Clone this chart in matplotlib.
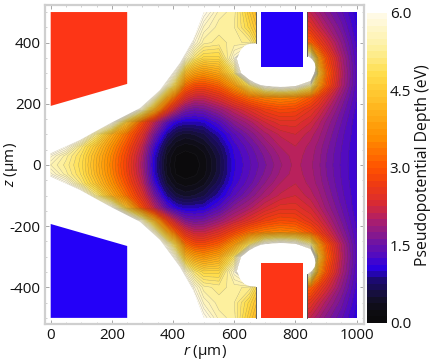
import matplotlib
matplotlib.use("Agg")
import matplotlib.pyplot as plt
import numpy as np
from matplotlib.colors import LinearSegmentedColormap
from matplotlib.patches import Polygon

# field, upper half only (z >= 0); the rest is mirrored
r_um = [0, 50, 100, 150, 200, 250, 300, 340, 380, 410, 440, 470, 500, 550, 600, 650, 700, 750, 800, 850, 875, 900, 950, 1000]
z_um = [0, 30, 60, 100, 140, 180, 220, 260, 300, 350, 400, 450, 500]
depth_upper = [
    [5.5, 5.2, 4.8, 4.1, 3.4, 2.7, 1.9, 0.95, 0.32, 0.08, 0.02, 0.06, 0.17, 0.55, 1.1, 1.35, 1.6, 1.85, 2.05, 1.9, 1.78, 1.62, 1.35, 1.12],
    [5.8, 5.3, 4.85, 4.15, 3.45, 2.75, 1.95, 1.0, 0.36, 0.12, 0.06, 0.1, 0.2, 0.58, 1.12, 1.38, 1.65, 1.9, 2.07, 1.92, 1.8, 1.63, 1.36, 1.12],
    [6.6, 5.95, 5.05, 4.35, 3.6, 2.9, 2.1, 1.15, 0.5, 0.26, 0.18, 0.22, 0.33, 0.7, 1.18, 1.45, 1.75, 2.0, 2.12, 1.95, 1.83, 1.67, 1.38, 1.13],
    [7.4, 6.9, 6.3, 5.1, 4.0, 3.2, 2.4, 1.55, 0.85, 0.55, 0.45, 0.5, 0.6, 0.95, 1.35, 1.65, 1.95, 2.15, 2.25, 2.05, 1.92, 1.75, 1.42, 1.15],
    [8.0, 7.7, 7.2, 6.6, 6.0, 4.3, 2.85, 2.05, 1.35, 1.05, 0.95, 0.98, 1.0, 1.3, 1.7, 1.95, 2.25, 2.45, 2.45, 2.25, 2.05, 1.85, 1.5, 1.15],
    [8.0, 8.0, 8.0, 7.6, 7.2, 6.9, 5.4, 3.9, 2.6, 2.0, 1.6, 1.5, 1.55, 1.8, 2.1, 2.4, 2.7, 2.85, 2.8, 2.5, 2.3, 2.05, 1.6, 1.2],
    [8.0, 8.0, 8.0, 8.0, 7.8, 7.6, 6.9, 5.6, 3.9, 3.0, 2.4, 2.15, 2.15, 2.4, 2.8, 3.2, 3.4, 3.5, 3.4, 3.0, 2.7, 2.35, 1.75, 1.25],
    [8.0, 8.0, 8.0, 8.0, 8.0, 8.0, 7.8, 6.8, 5.6, 4.5, 3.2, 2.9, 2.85, 3.1, 3.75, 4.9, 6.1, 6.4, 6.2, 5.2, 3.8, 3.0, 2.0, 1.3],
    [8.0, 8.0, 8.0, 8.0, 8.0, 8.0, 8.0, 7.6, 6.6, 5.6, 4.2, 3.8, 3.65, 3.9, 4.9, 7.5, 8.0, 8.0, 8.0, 7.5, 4.4, 3.2, 2.05, 1.32],
    [8.0, 8.0, 8.0, 8.0, 8.0, 8.0, 8.0, 8.0, 8.0, 6.8, 5.7, 5.0, 4.7, 4.7, 5.7, 8.0, 8.0, 8.0, 8.0, 5.8, 3.7, 2.9, 1.95, 1.28],
    [8.0, 8.0, 8.0, 8.0, 8.0, 8.0, 8.0, 8.0, 8.0, 8.0, 6.6, 5.75, 5.3, 5.2, 5.3, 5.2, 4.2, 4.0, 3.2, 3.1, 2.7, 2.35, 1.75, 1.2],
    [8.0, 8.0, 8.0, 8.0, 8.0, 8.0, 8.0, 8.0, 8.0, 8.0, 7.0, 6.2, 5.6, 5.3, 5.25, 4.7, 4.0, 4.0, 2.7, 2.5, 2.2, 1.95, 1.55, 1.12],
    [8.0, 8.0, 8.0, 8.0, 8.0, 8.0, 8.0, 8.0, 8.0, 8.0, 7.5, 7.0, 6.0, 5.45, 5.3, 4.5, 3.8, 4.0, 2.3, 2.1, 1.9, 1.7, 1.4, 1.05],
]

# outlines of the cut-out areas and electrodes, upper half
gap_outline = [(-1, 38), (96, 82), (194, 136), (292, 186), (357, 245), (422, 333), (465, 408), (501, 501), (-1, 501)]
blob_outline = [
    (671, 501), (671, 398), (650, 396), (634, 390), (620, 375), (612, 354), (612, 338), (618, 321), (630, 300), (645, 284),
    (665, 270), (687, 261), (725, 257), (765, 256), (800, 260), (830, 270), (850, 285), (863, 305), (865, 320), (863, 333),
    (854, 346), (841, 356), (838, 501),
]
wedge_outline = [(0, 500), (0, 193), (250, 265), (250, 500)]
post_outline = [(687, 500), (687, 321), (823, 321), (823, 500)]

cmap_stops = [
    (0.0, "#0a0a0a"), (0.25, "#0e0c12"), (0.5, "#141030"), (0.8, "#1c0a70"), (1.06, "#2a00e0"), (1.25, "#4a08c8"),
    (1.5, "#6a12a8"), (1.75, "#8c1a88"), (2.0, "#b01e68"), (2.3, "#d82a34"), (2.7, "#f03c10"), (3.0, "#ff5200"),
    (3.6, "#ff9000"), (4.2, "#ffb820"), (4.8, "#ffdc48"), (5.3, "#fdf09c"), (6.0, "#fffbea"),
]
cbar_ticks = [0.0, 1.5, 3.0, 4.5, 6.0]

plt.rcParams["font.family"] = "Open Sans"
plt.rcParams["axes.unicode_minus"] = False
plt.rcParams["mathtext.fontset"] = "custom"
plt.rcParams["mathtext.it"] = "Open Sans:italic"
plt.rcParams["mathtext.rm"] = "Open Sans"

FRAME = "#cfcfcf"
INK = "#111111"
W, H = 436, 362

fig = plt.figure(figsize=(W / 100, H / 100), dpi=100)
axis = fig.add_axes([45 / W, 1 - 324 / H, 319 / W, 319 / H])

depth = np.array(depth_upper)
depth_full = np.vstack((depth[:0:-1], depth))
z_full = np.concatenate((-np.array(z_um)[:0:-1], z_um))

cmap = LinearSegmentedColormap.from_list("depth", [(v / 6.0, c) for v, c in cmap_stops])
levels = np.arange(0, 6.001, 0.125)
filled = axis.contourf(r_um, z_full, depth_full, levels=levels, cmap=cmap, vmin=0, vmax=6)
axis.contour(r_um, z_full, depth_full, levels=levels, colors="#333333", linewidths=0.3, alpha=0.35)

# white cut-outs, both halves
for sign in (1, -1):
    for outline in (gap_outline, blob_outline):
        points = [(x, sign * y) for x, y in outline]
        axis.add_patch(Polygon(points, closed=True, facecolor="white", edgecolor="none", zorder=3))
    for wall, start in ((671, 398), (838, 356)):
        axis.plot([wall, wall], [sign * start, sign * 500], color="#444444", lw=0.6, zorder=4)

# electrodes, red on top-left and bottom-right
red, blue = "#fd3516", "#2400f8"
axis.add_patch(Polygon(wedge_outline, closed=True, facecolor=red, edgecolor="none", zorder=5))
axis.add_patch(Polygon([(x, -y) for x, y in wedge_outline], closed=True, facecolor=blue, edgecolor="none", zorder=5))
axis.add_patch(Polygon(post_outline, closed=True, facecolor=blue, edgecolor="none", zorder=5))
axis.add_patch(Polygon([(x, -y) for x, y in post_outline], closed=True, facecolor=red, edgecolor="none", zorder=5))

axis.set_xlim(-18.6, 1024)
axis.set_ylim(-520, 523)
axis.set_xticks(range(0, 1001, 200))
axis.set_yticks(range(-400, 401, 200))
axis.set_xticks(range(0, 1001, 50), minor=True)
axis.set_yticks(range(-500, 501, 50), minor=True)
axis.tick_params(which="major", direction="in", length=3, width=0.6, color="#999999", top=True, right=True, labelsize=11, labelcolor=INK, pad=3)
axis.tick_params(which="minor", direction="in", length=1.5, width=0.4, color="#aaaaaa", top=True, right=True)
for spine in axis.spines.values():
    spine.set_color(FRAME)
    spine.set_linewidth(1.6)
fig.text(205 / W, 1 - 352 / H, r"$\it{r}$ ($\mathrm{\mu}$m)", ha="center", va="center", fontsize=11, color=INK)
fig.text(11 / W, 1 - 165 / H, r"$\it{z}$ ($\mathrm{\mu}$m)", ha="center", va="center", rotation=90, fontsize=11, color=INK)

# stepped colour bar
cax = fig.add_axes([367 / W, 1 - 322.7 / H, 20 / W, 310 / H])
cbar = fig.colorbar(filled, cax=cax, ticks=cbar_ticks)
cbar.outline.set_visible(False)
cbar.ax.tick_params(length=0, labelsize=11, labelcolor=INK, pad=2)
cbar.ax.set_yticklabels([f"{t:.1f}" for t in cbar_ticks])
fig.text(423 / W, 1 - 165 / H, "Pseudopotential Depth (eV)", ha="center", va="center", rotation=90, fontsize=11.3, color=INK)

fig.savefig("out.png", dpi=100)
